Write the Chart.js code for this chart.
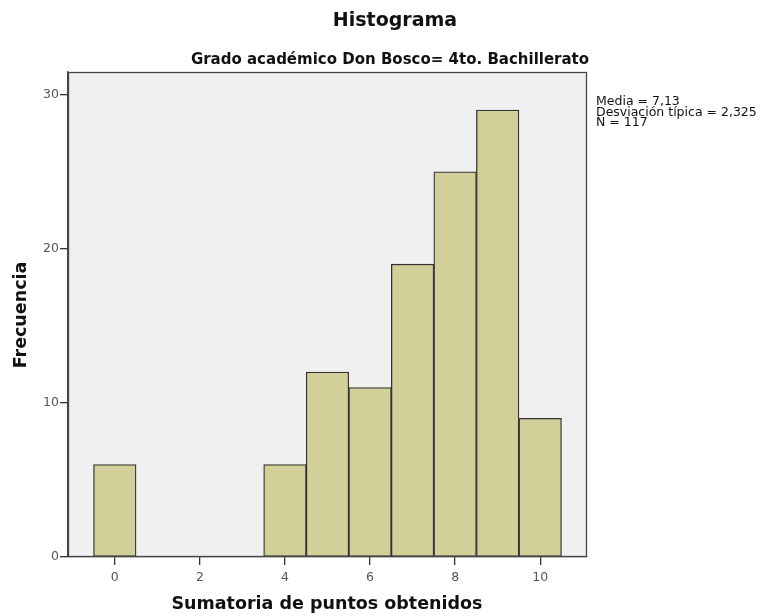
<!DOCTYPE html>
<html><head><meta charset="utf-8">
<script src="https://cdn.jsdelivr.net/npm/chart.js@4.4.1/dist/chart.umd.min.js"></script>
<style>html,body{margin:0;padding:0;background:#fff}#wrap{width:772px;height:616px}</style>
</head><body><div id="wrap"><canvas id="c" width="772" height="616"></canvas></div>
<script>
const binCenters = [0,1,2,3,4,5,6,7,8,9,10];
const frequencies = [6,0,0,0,6,12,11,19,25,29,9];
const xTicks = [0,2,4,6,8,10];
const yTicks = [0,10,20,30];
const titleText = "Histograma";
const subtitleText = "Grado académico Don Bosco= 4to. Bachillerato";
const xTitle = "Sumatoria de puntos obtenidos";
const yTitle = "Frecuencia";
const statsLines = ["Media = 7,13", "Desviación típica = 2,325", "N = 117"];

const L = 68, R = 587, T = 72, B = 557, W = 772, H = 616;
const FONT = "'DejaVu Sans', sans-serif";

const decor = {
  id: 'decor',
  beforeDraw(chart) {
    const ctx = chart.ctx, a = chart.chartArea;
    ctx.save();
    ctx.fillStyle = '#fff'; ctx.fillRect(0,0,W,H);
    ctx.fillStyle = '#f0f0f0'; ctx.fillRect(a.left, a.top, a.right-a.left, a.bottom-a.top);
    ctx.restore();
  },
  afterDraw(chart) {
    const ctx = chart.ctx, a = chart.chartArea;
    ctx.save();
    ctx.strokeStyle = '#444'; ctx.lineWidth = 1.3;
    ctx.strokeRect(a.left+0.5, a.top+0.5, a.right-a.left-1, a.bottom-a.top-1);
    ctx.fillStyle = '#111';
    ctx.textAlign = 'center'; ctx.textBaseline = 'middle';
    ctx.font = "bold 19px " + FONT;
    ctx.fillText(titleText, 395, 21);
    ctx.font = "bold 15px " + FONT;
    ctx.fillText(subtitleText, 390, 60);
    ctx.font = "bold 17.5px " + FONT;
    ctx.fillText(xTitle, 327, 604);
    ctx.save();
    ctx.translate(21, 315);
    ctx.rotate(-Math.PI/2);
    ctx.fillText(yTitle, 0, 0);
    ctx.restore();
    ctx.font = "12.5px " + FONT;
    ctx.textAlign = 'left'; ctx.fillStyle = '#111';
    statsLines.forEach((s,i) => ctx.fillText(s, 596, 102 + i*10.5));
    ctx.restore();
  }
};

new Chart(document.getElementById('c'), {
  type: 'bar',
  data: {
    datasets: [{
      data: binCenters.map((x,i) => ({x: x, y: frequencies[i]})),
      backgroundColor: '#d3cf99',
      borderColor: '#333',
      borderWidth: ctx => (ctx.raw && ctx.raw.y > 0) ? 1.3 : 0,
      borderSkipped: false,
      barPercentage: 1,
      categoryPercentage: 1
    }]
  },
  options: {
    responsive: false,
    animation: false,
    events: [],
    layout: { padding: { left: 0, right: W - R, top: T, bottom: 0 } },
    plugins: { legend: { display: false }, tooltip: { enabled: false }, title: { display: false } },
    scales: {
      x: {
        type: 'linear', min: -1.1, max: 11.1, offset: false,
        afterFit: s => { s.height = H - B; },
        afterBuildTicks: s => { s.ticks = xTicks.map(v => ({value: v})); },
        ticks: { includeBounds: false, color: '#555', font: { family: FONT, size: 12.5 }, padding: 5 },
        grid: { offset: false, drawOnChartArea: false, drawTicks: true, tickLength: 8, color: '#333', lineWidth: 1.3 },
        border: { display: true, color: '#444', width: 1.3 }
      },
      y: {
        min: 0, max: 31.47,
        afterFit: s => { s.width = L; },
        afterBuildTicks: s => { s.ticks = yTicks.map(v => ({value: v})); },
        ticks: { includeBounds: false, color: '#555', font: { family: FONT, size: 12.5 }, padding: 1 },
        grid: { drawOnChartArea: false, drawTicks: true, tickLength: 8, color: '#333', lineWidth: 1.3 },
        border: { display: true, color: '#444', width: 1.3 }
      }
    }
  },
  plugins: [decor]
});
</script>
</body></html>
